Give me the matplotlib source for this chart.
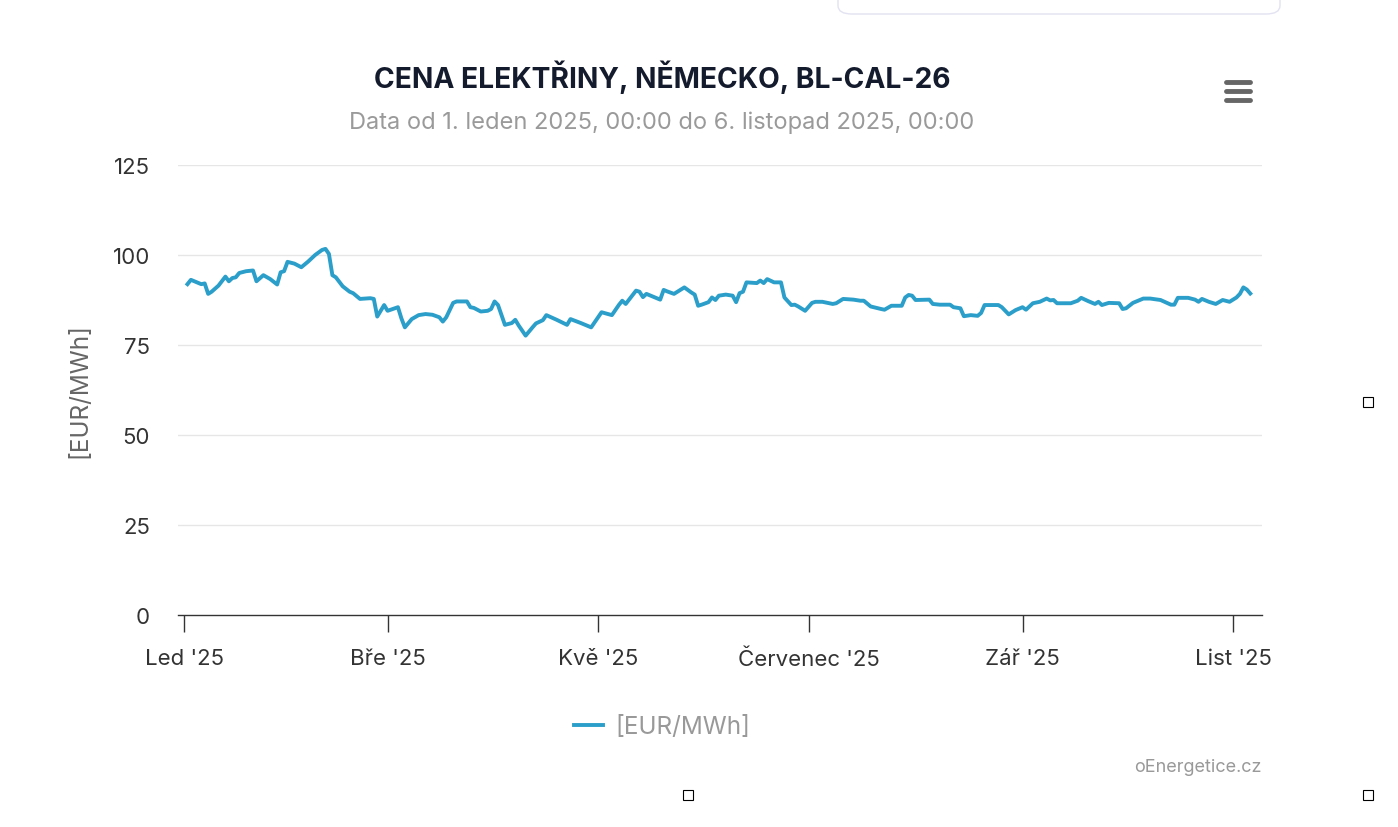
import matplotlib
matplotlib.use('Agg')
import matplotlib.pyplot as plt
import matplotlib.dates as mdates
from matplotlib.lines import Line2D
from matplotlib.patches import FancyBboxPatch
import datetime as dt

# daily settlement values (EUR/MWh)
dates = [
    '2025-01-02', '2025-01-03', '2025-01-06', '2025-01-07', '2025-01-08', '2025-01-09',
    '2025-01-11', '2025-01-13', '2025-01-14', '2025-01-15', '2025-01-16', '2025-01-17',
    '2025-01-19', '2025-01-21', '2025-01-22', '2025-01-24', '2025-01-26', '2025-01-28',
    '2025-01-29', '2025-01-30', '2025-01-31', '2025-02-02', '2025-02-04', '2025-02-06',
    '2025-02-08', '2025-02-10', '2025-02-11', '2025-02-12', '2025-02-13', '2025-02-14',
    '2025-02-16', '2025-02-18', '2025-02-19', '2025-02-21', '2025-02-24', '2025-02-25',
    '2025-02-26', '2025-02-28', '2025-03-01', '2025-03-04', '2025-03-05', '2025-03-06',
    '2025-03-08', '2025-03-10', '2025-03-12', '2025-03-14', '2025-03-16', '2025-03-17',
    '2025-03-18', '2025-03-20', '2025-03-21', '2025-03-24', '2025-03-25', '2025-03-26',
    '2025-03-28', '2025-03-30', '2025-03-31', '2025-04-01', '2025-04-02', '2025-04-04',
    '2025-04-06', '2025-04-07', '2025-04-08', '2025-04-10', '2025-04-12', '2025-04-13',
    '2025-04-15', '2025-04-16', '2025-04-19', '2025-04-22', '2025-04-23', '2025-04-26',
    '2025-04-29', '2025-05-02', '2025-05-05', '2025-05-07', '2025-05-08', '2025-05-09',
    '2025-05-12', '2025-05-13', '2025-05-14', '2025-05-15', '2025-05-17', '2025-05-19',
    '2025-05-20', '2025-05-21', '2025-05-23', '2025-05-26', '2025-05-28', '2025-05-29',
    '2025-05-30', '2025-05-31', '2025-06-02', '2025-06-03', '2025-06-04', '2025-06-05',
    '2025-06-07', '2025-06-09', '2025-06-10', '2025-06-11', '2025-06-12', '2025-06-13',
    '2025-06-16', '2025-06-17', '2025-06-18', '2025-06-19', '2025-06-21', '2025-06-23',
    '2025-06-24', '2025-06-26', '2025-06-27', '2025-06-28', '2025-06-30', '2025-07-02',
    '2025-07-03', '2025-07-05', '2025-07-08', '2025-07-09', '2025-07-11', '2025-07-14',
    '2025-07-16', '2025-07-17', '2025-07-19', '2025-07-22', '2025-07-23', '2025-07-25',
    '2025-07-28', '2025-07-29', '2025-07-30', '2025-07-31', '2025-08-01', '2025-08-05',
    '2025-08-06', '2025-08-08', '2025-08-11', '2025-08-12', '2025-08-14', '2025-08-15',
    '2025-08-17', '2025-08-19', '2025-08-20', '2025-08-21', '2025-08-25', '2025-08-26',
    '2025-08-28', '2025-08-30', '2025-09-01', '2025-09-02', '2025-09-04', '2025-09-06',
    '2025-09-08', '2025-09-09', '2025-09-10', '2025-09-11', '2025-09-15', '2025-09-17',
    '2025-09-18', '2025-09-20', '2025-09-22', '2025-09-23', '2025-09-24', '2025-09-26',
    '2025-09-29', '2025-09-30', '2025-10-01', '2025-10-03', '2025-10-06', '2025-10-08',
    '2025-10-11', '2025-10-14', '2025-10-15', '2025-10-16', '2025-10-19', '2025-10-21',
    '2025-10-22', '2025-10-23', '2025-10-25', '2025-10-27', '2025-10-29', '2025-10-31',
    '2025-11-02', '2025-11-03', '2025-11-04', '2025-11-05', '2025-11-06',
]
prices = [
    91.9, 93.1, 91.9, 92.1, 89.2, 89.8,
    91.5, 94.0, 92.7, 93.6, 93.8, 95.0,
    95.5, 95.7, 92.7, 94.4, 93.3, 91.8,
    95.2, 95.5, 98.1, 97.6, 96.6, 98.2,
    100.0, 101.4, 101.7, 100.3, 94.4, 93.8,
    91.3, 89.8, 89.4, 87.8, 88.0, 87.8,
    82.9, 86.1, 84.5, 85.5, 82.4, 79.9,
    82.2, 83.3, 83.6, 83.4, 82.7, 81.5,
    82.7, 86.7, 87.1, 87.1, 85.5, 85.3,
    84.3, 84.5, 85.0, 87.1, 86.1, 80.6,
    81.1, 82.0, 80.4, 77.6, 79.9, 81.0,
    81.9, 83.3, 82.0, 80.6, 82.2, 81.1,
    79.9, 84.1, 83.3, 86.1, 87.3, 86.4,
    90.1, 89.8, 88.3, 89.2, 88.4, 87.6,
    90.3, 89.9, 89.2, 91.0, 89.6, 89.0,
    85.9, 86.2, 86.9, 88.2, 87.5, 88.7,
    89.0, 88.7, 86.9, 89.4, 89.8, 92.4,
    92.2, 92.9, 92.2, 93.3, 92.4, 92.4,
    88.2, 86.1, 86.2, 85.7, 84.5, 86.7,
    87.0, 87.0, 86.4, 86.6, 87.8, 87.6,
    87.3, 87.3, 85.7, 85.0, 84.8, 85.9,
    85.9, 88.2, 88.9, 88.7, 87.5, 87.6,
    86.4, 86.2, 86.2, 85.5, 85.2, 83.0,
    83.3, 83.1, 83.9, 86.1, 86.1, 85.5,
    83.5, 84.7, 85.5, 84.8, 86.6, 87.0,
    87.9, 87.4, 87.5, 86.6, 86.6, 87.3,
    88.1, 87.2, 86.4, 87.0, 86.1, 86.7,
    86.6, 85.0, 85.2, 86.7, 87.9, 87.9,
    87.5, 86.2, 86.2, 88.1, 88.1, 87.6,
    87.0, 87.8, 87.0, 86.4, 87.5, 87.0,
    88.2, 89.2, 91.0, 90.4, 89.3,
]

tick_dates = ['2025-01-01', '2025-03-01', '2025-05-01', '2025-07-01', '2025-09-01', '2025-11-01']
tick_labels = ["Led '25", "Bře '25", "Kvě '25", "Červenec '25", "Zář '25", "List '25"]
y_ticks = [0, 25, 50, 75, 100, 125]

title = 'CENA ELEKTŘINY, NĚMECKO, BL-CAL-26'
subtitle = 'Data od 1. leden 2025, 00:00 do 6. listopad 2025, 00:00'
unit = '[EUR/MWh]'

W, H = 1398, 828
plt.rcParams['font.family'] = ['Inter', 'DejaVu Sans']

x = [dt.datetime.strptime(d, '%Y-%m-%d') for d in dates]
xt = [dt.datetime.strptime(d, '%Y-%m-%d') for d in tick_dates]

fig = plt.figure(figsize=(W / 100, H / 100), dpi=100)
fig.patch.set_facecolor('white')
ax = fig.add_axes([178 / W, 1 - 616 / H, (1262 - 178) / W, (616 - 166) / H])

line, = ax.plot(x, prices, color='#2b9fc9', lw=2.8, solid_joinstyle='round', label=unit)

start = dt.datetime(2025, 1, 1)
ax.set_xlim(start - dt.timedelta(days=1.74), start + dt.timedelta(days=312.4))
ax.set_ylim(0, 125)
ax.set_yticks(y_ticks)
ax.set_xticks(xt)
ax.set_xticklabels(tick_labels)

for v in y_ticks[1:]:
    ax.axhline(v, color='#e6e6e6', lw=1.0, zorder=0)

for s in ['top', 'right', 'left']:
    ax.spines[s].set_visible(False)
ax.spines['bottom'].set_color('#333333')
ax.spines['bottom'].set_linewidth(1.0)

ax.tick_params(axis='y', length=0, pad=20, labelsize=16, labelcolor='#333333')
ax.tick_params(axis='x', length=12, width=1.0, color='#333333', pad=12,
               labelsize=16, labelcolor='#333333')

fig.text(662 / W, 1 - 77 / H, title, ha='center', va='center', fontsize=20.3,
         fontweight='bold', color='#141b2d')
fig.text(662 / W, 1 - 123 / H, subtitle, ha='center', va='center', fontsize=17,
         color='#9a9a9a')
fig.text(80 / W, 1 - 391 / H, unit, ha='center', va='center', rotation=90,
         fontsize=17.5, color='#666666')

ax.legend(handles=[line], loc='center', bbox_to_anchor=(662 / W, 1 - 728 / H),
          bbox_transform=fig.transFigure, frameon=False, fontsize=17.5,
          labelcolor='#999999', handlelength=1.2, handletextpad=0.5)

fig.text(1262 / W, 1 - 768 / H, 'oEnergetice.cz', ha='right', va='center',
         fontsize=13, color='#999999')

# hamburger menu
for yy in [83, 92, 101]:
    fig.add_artist(Line2D([1226 / W, 1250 / W], [1 - yy / H, 1 - yy / H],
                          color='#666666', lw=3.5, solid_capstyle='round'))

# box edge at top
fig.add_artist(FancyBboxPatch((838 / W, 1 - 15 / H), (1280 - 838) / W, 40 / H,
                              boxstyle='round,pad=0,rounding_size=0.01',
                              transform=fig.transFigure, fc='white', ec='#e2e2f2', lw=1.0))

# small handles
for px, py in [(1368, 403), (688, 796), (1368, 796)]:
    fig.add_artist(Line2D([px / W], [1 - py / H], marker='s', markersize=7,
                          mfc='white', mec='black', mew=0.8, ls='none'))

fig.savefig('out.png', dpi=100, facecolor='white')
